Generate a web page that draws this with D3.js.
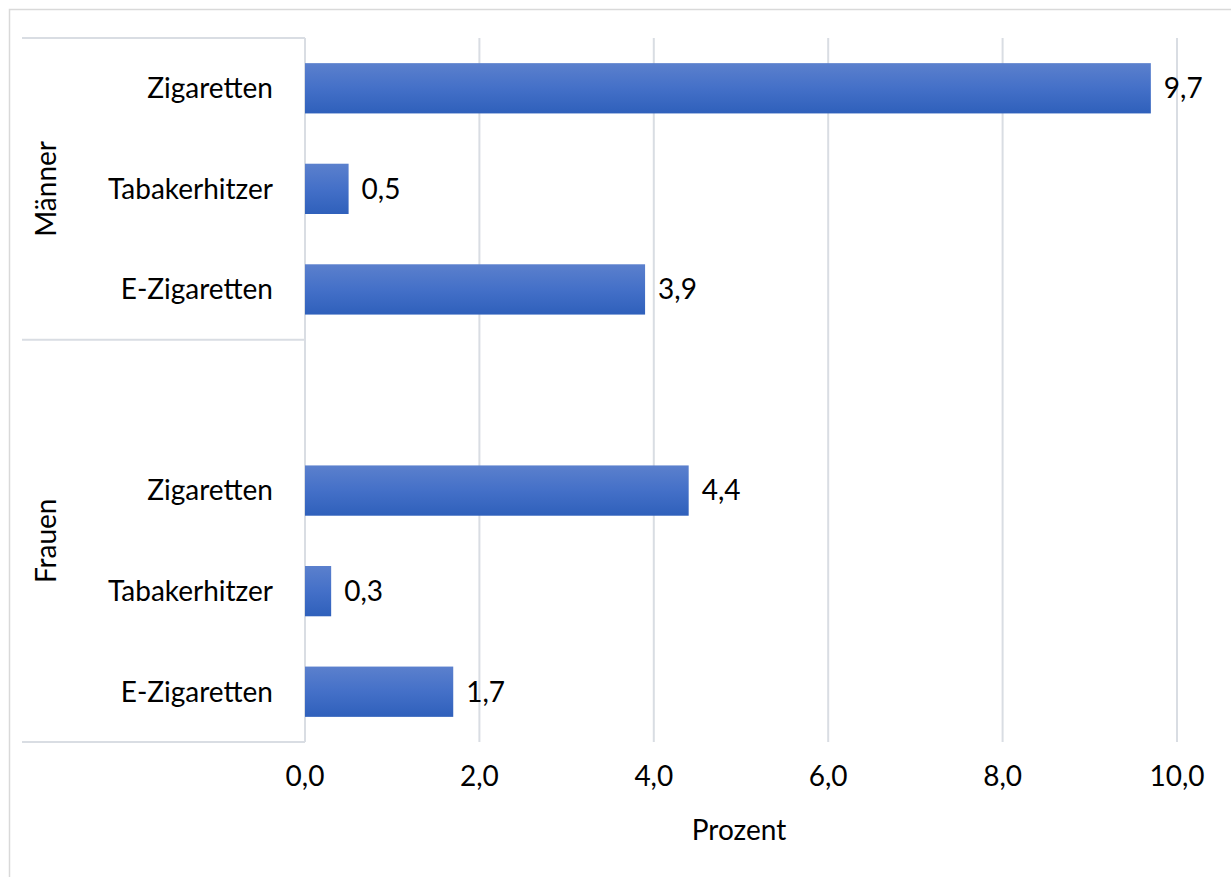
<!DOCTYPE html>
<html><head><meta charset="utf-8">
<script src="https://cdn.jsdelivr.net/npm/d3@7"></script>
<style>body{margin:0;background:#fff}svg{display:block}text{font-family:Lato,"Open Sans",sans-serif;fill:#000}</style>
</head><body><svg id="c" width="1231" height="877"></svg>
<script>
const groups = ["Männer", "Frauen"];
const categories = ["Zigaretten", "Tabakerhitzer", "E-Zigaretten"];
const maennerValues = [9.7, 0.5, 3.9];
const frauenValues = [4.4, 0.3, 1.7];
const xTicks = [0, 2, 4, 6, 8, 10];
const xTitle = "Prozent";

(function () {
const fmt = v => d3.format(".1f")(v).replace(".", ",");
const svg = d3.select("#c");
const pLeft = 305, pRight = 1177, pTop = 38, pBottom = 742;
const gridColor = "#d9dde3";
const fs = 28;

const slots = [];
categories.forEach((c, i) => slots.push({key: "M" + i, cat: c, v: maennerValues[i]}));
slots.push({key: "blank", cat: "", v: null});
categories.forEach((c, i) => slots.push({key: "F" + i, cat: c, v: frauenValues[i]}));

const x = d3.scaleLinear().domain([0, 10]).range([pLeft, pRight]);
const y = d3.scaleBand().domain(slots.map(s => s.key)).range([pTop, pBottom]).paddingInner(0.5).paddingOuter(0.25);

svg.append("rect").attr("x", 9.5).attr("y", 9.5).attr("width", 1240).attr("height", 900)
  .attr("fill", "none").attr("stroke", "#d9d9d9").attr("stroke-width", 1.5);

const defs = svg.append("defs");
const grad = defs.append("linearGradient").attr("id", "bg").attr("x1", 0).attr("y1", 0).attr("x2", 0).attr("y2", 1);
grad.append("stop").attr("offset", "0%").attr("stop-color", "#5b80cd");
grad.append("stop").attr("offset", "50%").attr("stop-color", "#4470c8");
grad.append("stop").attr("offset", "100%").attr("stop-color", "#2f60bb");

svg.append("g").selectAll("line").data(xTicks).join("line")
  .attr("x1", d => x(d)).attr("x2", d => x(d)).attr("y1", pTop).attr("y2", pBottom)
  .attr("stroke", gridColor).attr("stroke-width", 2);

const sepY = pTop + 3 * (pBottom - pTop) / 7;
[pTop, sepY, pBottom].forEach(yy => {
  svg.append("line").attr("x1", 22).attr("x2", pLeft).attr("y1", yy).attr("y2", yy)
    .attr("stroke", gridColor).attr("stroke-width", 2);
});

const data = slots.filter(s => s.v !== null);
svg.append("g").selectAll("rect").data(data).join("rect")
  .attr("x", x(0)).attr("y", d => y(d.key)).attr("width", d => x(d.v) - x(0)).attr("height", y.bandwidth())
  .attr("fill", "url(#bg)");

svg.append("g").selectAll("text").data(data).join("text")
  .attr("x", d => x(d.v) + 13).attr("y", d => y(d.key) + y.bandwidth() / 2)
  .attr("dy", "0.35em").attr("font-size", fs).text(d => fmt(d.v));

svg.append("g").selectAll("text").data(data).join("text")
  .attr("x", 273).attr("y", d => y(d.key) + y.bandwidth() / 2)
  .attr("dy", "0.35em").attr("text-anchor", "end").attr("font-size", fs).text(d => d.cat);

const groupCenters = [(pTop + sepY) / 2, (sepY + pBottom) / 2];
groups.forEach((g, i) => {
  svg.append("text").attr("transform", `translate(46,${groupCenters[i]}) rotate(-90)`)
    .attr("text-anchor", "middle").attr("dy", "0.35em").attr("font-size", fs).text(g);
});

svg.append("g").selectAll("text").data(xTicks).join("text")
  .attr("x", d => x(d)).attr("y", 776).attr("dy", "0.35em").attr("text-anchor", "middle")
  .attr("font-size", fs).text(d => fmt(d));

svg.append("text").attr("x", (pLeft + pRight) / 2 - 2).attr("y", 830).attr("dy", "0.35em")
  .attr("text-anchor", "middle").attr("font-size", fs).text(xTitle);
})();
</script></body></html>
